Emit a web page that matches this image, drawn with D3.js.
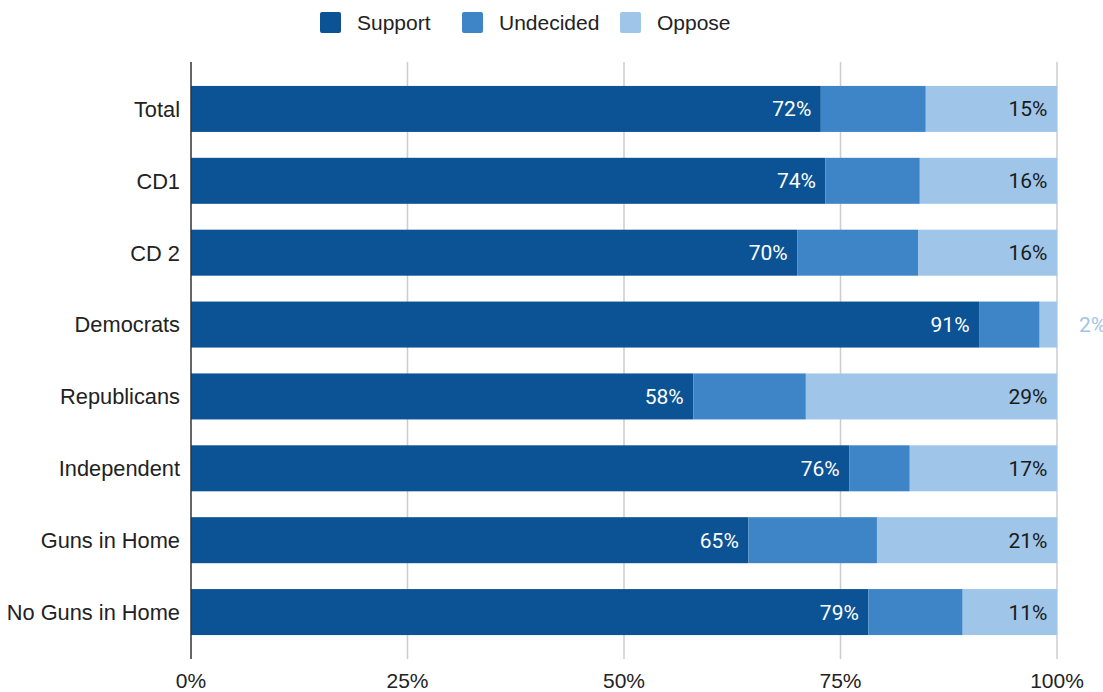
<!DOCTYPE html>
<html lang="en">
<head>
  <meta charset="UTF-8">
  <title>Support / Undecided / Oppose</title>
  <script src="https://d3js.org/d3.v7.min.js"></script>
  <style>
    body {
      margin: 0;
      background: #ffffff;
      overflow: hidden;
    }
    svg {
      display: block;
    }
    .cat text, .legend text, .xaxis text {
      font-family: 'Liberation Sans', Arial, sans-serif;
      font-size: 21px;
      fill: #222;
    }
    .cat text {
      font-size: 21.8px;
    }
    .val {
      font-family: Roboto, 'Noto Sans', sans-serif;
      font-size: 21px;
    }
  </style>
</head>
<body>
  <svg width="1103" height="692"></svg>

  <script>
    // raw survey numbers (rows do not always add to exactly 100, chart normalises them)
    const groups = ["Total", "CD1", "CD 2", "Democrats", "Republicans", "Independent", "Guns in Home", "No Guns in Home"];
    const support = [72, 74, 70, 91, 58, 76, 65, 79];
    const undecided = [12, 11, 14, 7, 13, 7, 15, 11];
    const oppose = [15, 16, 16, 2, 29, 17, 21, 11];

    const seriesNames = ["Support", "Undecided", "Oppose"];
    const colors = ["#0b5394", "#3d85c6", "#9fc5e8"];
    const xTicks = [0, 0.25, 0.5, 0.75, 1];

    const svg = d3.select("svg");
    const plotLeft = 191, plotRight = 1057;
    const plotTop = 62, plotBottom = 659;

    const x = d3.scaleLinear().domain([0, 1]).range([plotLeft, plotRight]);
    const y = d3.scaleBand().domain(groups).range([73, 648]).paddingInner(0.36).paddingOuter(0.18);
    const color = d3.scaleOrdinal().domain(seriesNames).range(colors);

    // build rows, normalised to 100%
    const rows = groups.map((g, i) => {
      const vals = [support[i], undecided[i], oppose[i]];
      const sum = d3.sum(vals);
      const r = { group: g };
      seriesNames.forEach((s, j) => { r[s] = vals[j] / sum; r[s + "_raw"] = vals[j]; });
      return r;
    });
    const stacked = d3.stack().keys(seriesNames)(rows);

    // gridlines
    svg.append("g")
      .selectAll("line")
      .data(xTicks.slice(1))
      .join("line")
      .attr("x1", d => x(d)).attr("x2", d => x(d))
      .attr("y1", plotTop).attr("y2", plotBottom)
      .attr("stroke", "#cccccc")
      .attr("stroke-width", 1.5);

    // bars
    const layer = svg.append("g")
      .selectAll("g")
      .data(stacked)
      .join("g")
      .attr("fill", d => color(d.key));

    layer.selectAll("rect")
      .data(d => d)
      .join("rect")
      .attr("x", d => x(d[0]))
      .attr("width", d => x(d[1]) - x(d[0]))
      .attr("y", d => y(d.data.group))
      .attr("height", y.bandwidth());

    // value labels for support (white, inside) and oppose (dark, inside or outside)
    const labelled = stacked.filter(s => s.key !== "Undecided");
    labelled.forEach(s => {
      svg.append("g")
        .selectAll("text")
        .data(s)
        .join("text")
        .attr("class", "val")
        .attr("y", d => y(d.data.group) + y.bandwidth() / 2)
        .attr("dy", "0.36em")
        .each(function (d) {
          const t = d3.select(this);
          const w = x(d[1]) - x(d[0]);
          t.text(d.data[s.key + "_raw"] + "%");
          if (w > 45) {
            t.attr("x", x(d[1]) - 9.5)
              .attr("text-anchor", "end")
              .attr("fill", s.key === "Support" ? "#ffffff" : "#1a1a1a");
          } else {
            // too narrow: put it past the bar end, like the original
            t.attr("x", x(d[1]) + 22)
              .attr("text-anchor", "start")
              .attr("fill", color(s.key));
          }
        });
    });

    // zero axis line
    svg.append("line")
      .attr("x1", x(0)).attr("x2", x(0))
      .attr("y1", plotTop).attr("y2", plotBottom)
      .attr("stroke", "#333333")
      .attr("stroke-width", 1.5);

    // category labels
    svg.append("g")
      .attr("class", "cat")
      .selectAll("text")
      .data(groups)
      .join("text")
      .attr("x", plotLeft - 11)
      .attr("y", d => y(d) + y.bandwidth() / 2)
      .attr("dy", "0.36em")
      .attr("text-anchor", "end")
      .text(d => d);

    // x axis labels
    svg.append("g")
      .attr("class", "xaxis")
      .selectAll("text")
      .data(xTicks)
      .join("text")
      .attr("x", d => x(d))
      .attr("y", 688)
      .attr("text-anchor", "middle")
      .text(d => d3.format(".0%")(d));

    // legend
    const legendX = [320, 462, 620];
    const legend = svg.append("g")
      .attr("class", "legend")
      .selectAll("g")
      .data(seriesNames)
      .join("g")
      .attr("transform", (d, i) => `translate(${legendX[i]},12)`);

    legend.append("rect")
      .attr("width", 21).attr("height", 21)
      .attr("rx", 2)
      .attr("fill", d => color(d));

    legend.append("text")
      .attr("x", 37)
      .attr("y", 10.5)
      .attr("dy", "0.36em")
      .text(d => d);
  </script>
</body>
</html>
